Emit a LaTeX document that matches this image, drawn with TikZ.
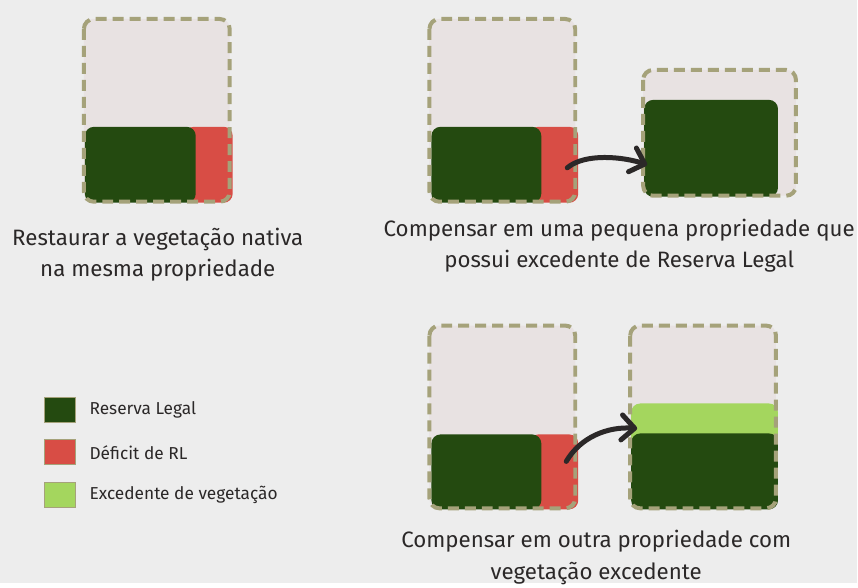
\documentclass[tikz,border=0pt]{standalone}
\usepackage{fontspec}
\setmainfont{Fira Sans}
\usepackage{xcolor}
\usetikzlibrary{arrows.meta,positioning}

\definecolor{fundo}{HTML}{EDEDED}
\definecolor{terreno}{HTML}{E8E2E2}
\definecolor{borda}{HTML}{A5A27A}
\definecolor{reserva}{HTML}{244A10}
\definecolor{deficit}{HTML}{D84D45}
\definecolor{excedente}{HTML}{A4D65E}
\definecolor{tinta}{HTML}{2B2828}

\begin{document}
\begin{tikzpicture}[x=1pt,y=-1pt,
		area/.style={anchor=north west, inner sep=0pt, outer sep=0pt, rounded corners=9pt},
		contorno/.style={draw=borda, line width=4pt, dash pattern=on 11pt off 6pt, rounded corners=10pt},
		quadro/.style={draw=borda, line width=1pt, minimum width=31pt, minimum height=25pt, inner sep=0pt},
		rotulo/.style={inner sep=0pt, font=\fontsize{17.3}{20}\selectfont, text=tinta},
		legenda/.style={align=center, text=tinta, font=\fontsize{22.3}{32}\selectfont},
		seta/.style={draw=tinta, line width=5pt, line cap=round, -{Straight Barb[length=13pt,width=25pt,line cap=round,line join=round]}}]
	\fill[fundo] (0,0) rectangle (858,584);
	% restaurar
	\node[area, fill=terreno, minimum width=146pt, minimum height=183pt] (lote1) at (84,19) {};
	\node[area, fill=deficit, minimum width=48pt, minimum height=76pt] (def1) at (185,127) {};
	\node[area, fill=reserva, minimum width=111pt, minimum height=76pt] (rl1) at (85,127) {};
	\draw[contorno] (lote1.north west) rectangle (lote1.south east);
	\node[legenda] (txt1) at (158,255) {Restaurar a vegetação nativa\\na mesma propriedade};
	% pequena propriedade
	\node[area, fill=terreno, minimum width=146pt, minimum height=183pt] (lote2) at (430,19) {};
	\node[area, fill=deficit, minimum width=49pt, minimum height=76pt] (def2) at (530,127) {};
	\node[area, fill=reserva, minimum width=110pt, minimum height=76pt] (rl2) at (432,127) {};
	\draw[contorno] (lote2.north west) rectangle (lote2.south east);
	\node[area, fill=terreno, minimum width=153pt, minimum height=126pt] (lote3) at (644,70) {};
	\node[area, fill=reserva, minimum width=134pt, minimum height=97pt] (rl3) at (645,100) {};
	\draw[contorno] (lote3.north west) rectangle (lote3.south east);
	\coordinate (ini1) at (568,168);
	\coordinate (fim1) at (648,165);
	\draw[seta] (ini1) .. controls +(18,-15) and +(-24,-8) .. (fim1);
	\node[legenda] (txt2) at (620,246) {Compensar em uma pequena propriedade que\\possui excedente de Reserva Legal};
	% outra propriedade
	\node[area, fill=terreno, minimum width=146pt, minimum height=183pt] (lote4) at (430,326) {};
	\node[area, fill=deficit, minimum width=49pt, minimum height=75pt] (def4) at (530,435) {};
	\node[area, fill=reserva, minimum width=110pt, minimum height=75pt] (rl4) at (432,435) {};
	\draw[contorno] (lote4.north west) rectangle (lote4.south east);
	\node[area, fill=terreno, minimum width=146pt, minimum height=183pt] (lote5) at (631,326) {};
	\node[area, fill=excedente, minimum width=147pt, minimum height=46pt] (exc5) at (632,404) {};
	\node[area, fill=reserva, minimum width=147pt, minimum height=76pt] (rl5) at (632,434) {};
	\draw[contorno] (lote5.north west) rectangle (lote5.south east);
	\coordinate (ini2) at (567,462);
	\coordinate (fim2) at (638,429);
	\draw[seta] (ini2) .. controls +(14,-24) and +(-30,-2) .. (fim2);
	\node[legenda] (txt3) at (597,558) {Compensar em outra propriedade com\\vegetação excedente};
	% legenda
	\node[quadro, fill=reserva] (q1) at (60.5,410.5) {};
	\node[quadro, fill=deficit] (q2) at (60.5,453) {};
	\node[quadro, fill=excedente] (q3) at (60.5,495.5) {};
	\node[rotulo, right=13pt of q1] (r1) {Reserva Legal};
	\node[rotulo, right=13pt of q2] (r2) {Déficit de RL};
	\node[rotulo, right=13pt of q3] (r3) {Excedente de vegetação};
\end{tikzpicture}
\end{document}
